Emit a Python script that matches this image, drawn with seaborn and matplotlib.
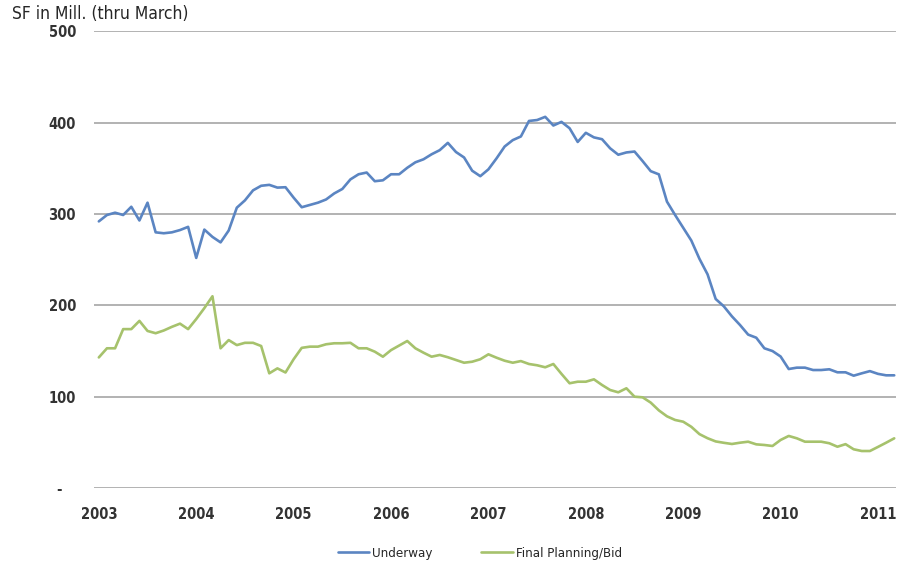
import matplotlib
matplotlib.use("Agg")
import matplotlib.pyplot as plt
import matplotlib.transforms as mtransforms
import numpy as np
import pandas as pd
import seaborn as sns

# Monthly square footage (millions), Jan 2003 - Mar 2011
year_labels = ["2003", "2004", "2005", "2006", "2007", "2008", "2009", "2010", "2011"]
series_names = ["Underway", "Final Planning/Bid"]

underway = [
    292, 299, 301.5, 299, 308, 293, 312.5, 280, 279, 280, 282.5, 286,
    252, 283, 275, 269, 282, 307, 315, 326, 331, 332, 329, 329.4,
    318, 307.5, 310, 312.5, 316, 322.6, 327.5, 338, 343.6, 345.5, 336, 337,
    343.6, 343.6, 350.7, 356.7, 360, 365.5, 370, 378, 368, 362, 347.5, 341.5,
    349, 361, 374, 381, 385, 402, 403, 406.5, 397, 401, 394, 379,
    389, 384, 382, 372, 365, 367.5, 368.5, 358, 347, 343.5, 313.6, 299,
    285, 271, 251, 234, 207, 199, 188, 178.5, 168, 164.6, 153, 150,
    144, 130.3, 131.8, 131.8, 129.2, 129.2, 130, 126.7, 126.7, 123, 125.6, 128,
    125, 123.4, 123.4,
]

final_planning = [
    143, 153, 153, 174, 174, 183, 172, 169.5, 172.5, 176.5, 180, 174,
    185, 197, 210, 153, 162, 156.5, 159, 159, 155.5, 125.6, 131, 126.5,
    141, 153.5, 154.8, 154.8, 157.4, 158.5, 158.5, 159, 153, 153, 149.3, 143.8,
    151, 156, 161, 153, 148.2, 143.8, 145.7, 143.2, 140.2, 137.2, 138.3, 141,
    146.4, 142.7, 139.4, 137.2, 139, 135.8, 134.4, 132.2, 135.8, 125, 114.7, 116.4,
    116.4, 119, 112.8, 107.3, 104.8, 109.2, 100, 99.3, 93.5, 85, 78.5, 74.5,
    72.6, 67, 59, 54.5, 51, 49.5, 48.2, 49.6, 50.7, 47.8, 47.1, 46,
    52.6, 57, 54.4, 50.7, 50.7, 50.7, 49, 45.2, 48, 42.4, 40.5, 40.5,
    45, 49.6, 54.4,
]

y_ticks = [0, 100, 200, 300, 400, 500]
y_tick_labels = ["-", "100", "200", "300", "400", "500"]

month_idx = np.arange(len(underway))
df = pd.DataFrame({
    "month": np.concatenate([month_idx, month_idx]),
    "value": underway + final_planning,
    "series": [series_names[0]] * len(underway) + [series_names[1]] * len(final_planning),
})

sns.set_theme(style="white")
plt.rcParams["font.family"] = ["DejaVu Sans"]
plt.rcParams["font.stretch"] = "condensed"

fig = plt.figure(figsize=(9, 5.65), dpi=100)
ax = fig.add_axes([0.1044, 0.1363, 0.891, 0.808])

palette = {"Underway": "#5b85c2", "Final Planning/Bid": "#a6c26c"}
sns.lineplot(data=df, x="month", y="value", hue="series", palette=palette,
             linewidth=1.9, ax=ax, legend=True)

ax.set_xlim(-0.6, 98.2)
ax.set_ylim(0, 500)
ax.set_yticks(y_ticks)
ax.set_yticklabels(y_tick_labels)
ax.set_xticks(np.arange(len(year_labels)) * 12)
ax.set_xticklabels(year_labels)
ax.set_xlabel("")
ax.set_ylabel("")

for s in ax.spines.values():
    s.set_visible(False)
ax.yaxis.grid(True, color="#a6a6a6", linewidth=1.2)
ax.xaxis.grid(False)
ax.set_axisbelow(True)
ax.tick_params(axis="both", length=0, labelsize=10.5, labelcolor="#333333")
for lbl in ax.get_xticklabels() + ax.get_yticklabels():
    lbl.set_fontweight("bold")
ax.tick_params(axis="y", pad=13)
ax.tick_params(axis="x", pad=14)

# accounting-style zero dash sits further left than the numbers
zero_lbl = ax.get_yticklabels()[0]
zero_lbl.set_transform(zero_lbl.get_transform()
                       + mtransforms.ScaledTranslation(-10 / 72, 0, fig.dpi_scale_trans))

fig.text(0.013, 0.975, "SF in Mill. (thru March)", fontsize=12.5,
         color="#262626", ha="left", va="center")

handles, labels = ax.get_legend_handles_labels()
ax.get_legend().remove()
fig.legend(handles, labels, loc="center", bbox_to_anchor=(0.533, 0.021),
           ncol=2, frameon=False, fontsize=9.5, handlelength=2.4,
           handletextpad=0.2, columnspacing=3.7, labelcolor="#262626")

fig.savefig("out.png", dpi=100)
